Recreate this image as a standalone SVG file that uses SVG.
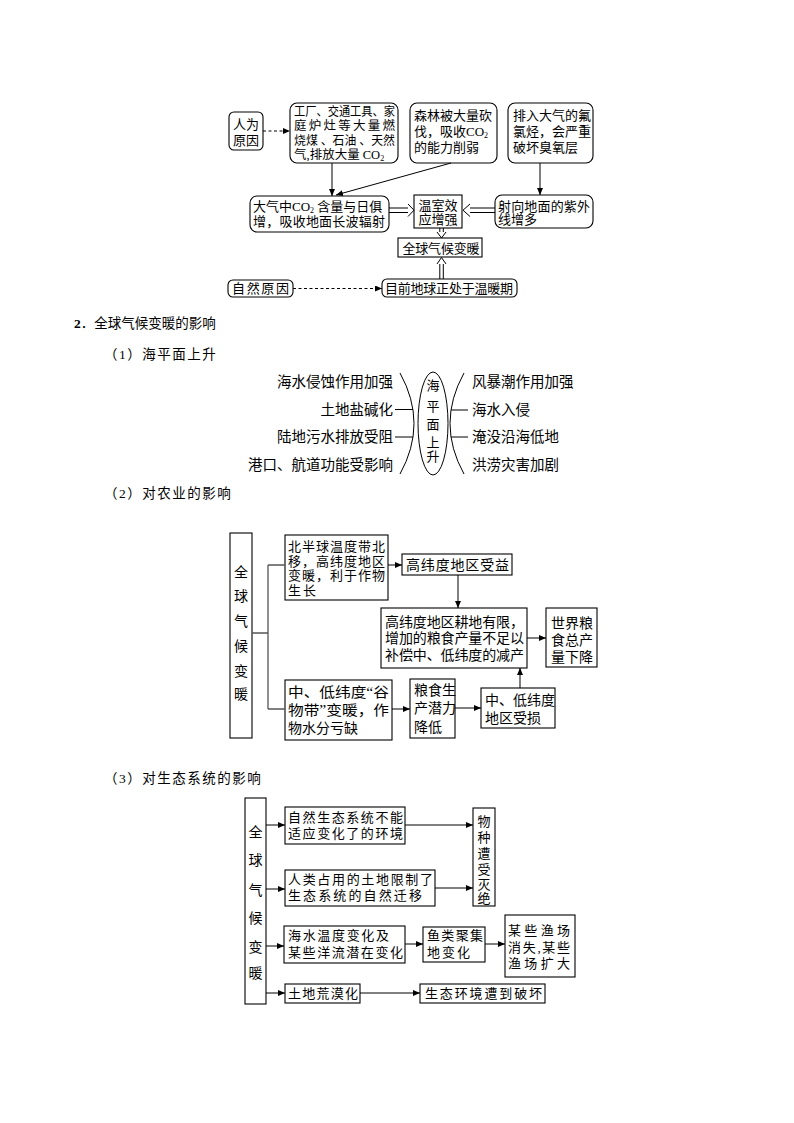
<svg xmlns="http://www.w3.org/2000/svg" width="794" height="1123" viewBox="0 0 794 1123">
<style>
.b{fill:#fff;stroke:#000;stroke-width:1.1}
.t{font-family:'Liberation Serif','Noto Sans CJK SC',serif;font-size:13px;fill:#000}
.s{font-family:'Liberation Serif','Noto Sans CJK SC',serif;font-size:12.5px;fill:#000}
.t14{font-family:'Liberation Serif','Noto Sans CJK SC',serif;font-size:14px;fill:#000}
.m{text-anchor:middle}
.c{stroke:#000;stroke-width:1;fill:none}
.g{stroke:#555;stroke-width:1.3;fill:none}
.d{stroke:#000;stroke-width:1;fill:none;stroke-dasharray:3,2.5}
.h{font-family:'Liberation Serif','Noto Sans CJK SC',serif;font-size:13.5px;fill:#000}
</style>
<defs>
<marker id="a" markerUnits="userSpaceOnUse" markerWidth="7" markerHeight="6" refX="7" refY="3" orient="auto">
<path d="M0,0 L7,3 L0,6 z" fill="#000"/>
</marker>
</defs>
<rect width="794" height="1123" fill="#fff"/>

<!-- Section 1: causes -->
<g id="n-renwei"><rect class="b" x="229" y="112" width="34" height="38" rx="5"/>
<text class="t m" x="246" y="129">人为</text><text class="t m" x="246" y="145">原因</text></g>
<g id="n-gongchang"><rect class="b" x="290" y="103" width="108" height="60" rx="7"/>
<text class="s" x="294" y="115.5" textLength="101" lengthAdjust="spacingAndGlyphs">工厂、交通工具、家</text>
<text class="s" x="294" y="130" textLength="101">庭炉灶等大量燃</text>
<text class="s" x="294" y="144.5" textLength="101" lengthAdjust="spacingAndGlyphs">烧煤 、石油 、天然</text>
<text class="s" x="294" y="158.5">气,排放大量 CO<tspan font-size="8" dy="2">2</tspan></text></g>
<g id="n-senlin"><rect class="b" x="410" y="103" width="87" height="60" rx="7"/>
<text class="t" x="414" y="120" textLength="78">森林被大量砍</text>
<text class="t" x="414" y="136">伐，吸收CO<tspan font-size="8" dy="2">2</tspan></text>
<text class="t" x="414" y="152">的能力削弱</text></g>
<g id="n-fuluting"><rect class="b" x="508" y="103" width="85" height="60" rx="7"/>
<text class="t" x="513" y="120" textLength="78">排入大气的氟</text>
<text class="t" x="513" y="136" textLength="78">氯烃，会严重</text>
<text class="t" x="513" y="152">破坏臭氧层</text></g>
<g id="n-daqi"><rect class="b" x="250" y="196" width="139" height="36" rx="7"/>
<text class="t" x="253" y="211">大气中CO<tspan font-size="8" dy="2">2</tspan><tspan dy="-2"> 含量与日俱</tspan></text>
<text class="t" x="253" y="226" textLength="132">增，吸收地面长波辐射</text></g>
<g id="n-wenshi"><rect class="b" x="414" y="195" width="48" height="33"/>
<text class="t m" x="438" y="209.5">温室效</text><text class="t m" x="438" y="223.5">应增强</text></g>
<g id="n-sheixiang"><rect class="b" x="495" y="195" width="98" height="33" rx="7"/>
<text class="t" x="498" y="210.5" textLength="92">射向地面的紫外</text>
<text class="t" x="498" y="224">线增多</text></g>
<g id="n-quanqiu"><rect class="b" x="398" y="238" width="84" height="19"/>
<text class="t m" x="441" y="252.5" textLength="77">全球气候变暖</text></g>
<g id="n-ziran"><rect class="b" x="228" y="280" width="65" height="17" rx="5"/>
<text class="t" x="232" y="293" textLength="57">自然原因</text></g>
<g id="n-muqian"><rect class="b" x="382" y="279" width="135" height="18" rx="5"/>
<text class="t" x="385" y="293" textLength="128">目前地球正处于温暖期</text></g>

<g id="connectors1">
<line class="d" x1="263" y1="131" x2="290" y2="131" marker-end="url(#a)"/>
<line class="c" x1="332" y1="163" x2="332" y2="196" marker-end="url(#a)"/>
<line class="c" x1="451" y1="163" x2="336" y2="195" marker-end="url(#a)"/>
<line class="c" x1="540" y1="163" x2="540" y2="195" marker-end="url(#a)"/>
<path class="c" d="M389,208 H408 M389,212.5 H408 M408,204 L414,210.2 L408,216.5"/>
<path class="c" d="M495,208 H470 M495,212.5 H470 M470,204 L463,210.2 L470,216.5"/>
<path class="c" d="M439.8,228 V232 M443.3,228 V232 M437,232 L441.5,238 L446,232"/>
<path class="c" d="M439.8,279 V264 M443.3,279 V264 M437,264 L441.5,257.5 L446,264"/>
<line class="d" x1="293" y1="288.5" x2="382" y2="288.5" marker-end="url(#a)"/>
</g>

<!-- Headings -->
<text class="h" x="74" y="328"><tspan font-weight="bold">2</tspan>．全球气候变暖的影响</text>
<text class="h" x="104" y="359" letter-spacing="1.5">（1）海平面上升</text>
<text class="h" x="104" y="498" letter-spacing="1.5">（2）对农业的影响</text>
<text class="h" x="104" y="783" letter-spacing="1.5">（3）对生态系统的影响</text>

<!-- Section 2: sea level -->
<g id="sea-level">
<ellipse class="c" cx="433" cy="423.5" rx="15" ry="51.5"/>
<text class="t m" x="433" y="390">海</text>
<text class="t m" x="433" y="411">平</text>
<text class="t m" x="433" y="429">面</text>
<text class="t m" x="433" y="447">上</text>
<text class="t m" x="433" y="461">升</text>
<path class="c" d="M400,373 Q428,423.5 400,474"/>
<path class="c" d="M464,373 Q436,423.5 464,474"/>
<path class="c" d="M395,409.5 H413 M395,437 H413 M451,410 H468 M451,437 H468"/>
<g style="font-family:'Liberation Serif','Noto Sans CJK SC',serif;font-size:14.5px;text-anchor:end">
<text x="393" y="387">海水侵蚀作用加强</text>
<text x="393" y="415">土地盐碱化</text>
<text x="393" y="442">陆地污水排放受阻</text>
<text x="393" y="470">港口、航道功能受影响</text>
</g>
<g style="font-family:'Liberation Serif','Noto Sans CJK SC',serif;font-size:14.5px">
<text x="472" y="387">风暴潮作用加强</text>
<text x="472" y="415">海水入侵</text>
<text x="472" y="442">淹没沿海低地</text>
<text x="472" y="470">洪涝灾害加剧</text>
</g>
</g>

<!-- Section 3: agriculture -->
<g id="agr-root"><rect class="b" x="230" y="533" width="22" height="205"/>
<text class="t14 m" x="241" y="577">全</text><text class="t14 m" x="241" y="601">球</text>
<text class="t14 m" x="241" y="626">气</text><text class="t14 m" x="241" y="651">候</text>
<text class="t14 m" x="241" y="676">变</text><text class="t14 m" x="241" y="699">暖</text></g>
<g id="agr-north"><rect class="b" x="285" y="535" width="103" height="65"/>
<text class="t" x="288" y="551" textLength="97">北半球温度带北</text>
<text class="t" x="288" y="565.5" textLength="97">移，高纬度地区</text>
<text class="t" x="288" y="580" textLength="97">变暖，利于作物</text>
<text class="t" x="288" y="594.5" textLength="28">生长</text></g>
<g id="agr-high"><rect class="b" x="402" y="554" width="110" height="21"/>
<text class="t14" x="406" y="569.5" textLength="103">高纬度地区受益</text></g>
<g id="agr-limited"><rect class="b" x="381" y="608" width="146" height="60"/>
<text class="t14" x="385" y="626.5" textLength="139">高纬度地区耕地有限，</text>
<text class="t14" x="385" y="643" textLength="139">增加的粮食产量不足以</text>
<text class="t14" x="385" y="660" textLength="139">补偿中、低纬度的减产</text></g>
<g id="agr-world"><rect class="b" x="546" y="608" width="51" height="59"/>
<text class="t14 m" x="572" y="628">世界粮</text>
<text class="t14 m" x="572" y="645">食总产</text>
<text class="t14 m" x="572" y="662">量下降</text></g>
<g id="agr-grain"><rect class="b" x="285" y="680" width="107" height="60"/>
<text class="t14" x="288" y="697" textLength="101" lengthAdjust="spacingAndGlyphs">中、低纬度“谷</text>
<text class="t14" x="288" y="715" textLength="101" lengthAdjust="spacingAndGlyphs">物带”变暖，作</text>
<text class="t14" x="288" y="733">物水分亏缺</text></g>
<g id="agr-potential"><rect class="b" x="410" y="679" width="45" height="59"/>
<text class="t14" x="414" y="695">粮食生</text>
<text class="t14" x="414" y="713">产潜力</text>
<text class="t14" x="414" y="732">降低</text></g>
<g id="agr-loss"><rect class="b" x="481" y="688" width="74" height="40"/>
<text class="t14" x="485" y="705">中、低纬度</text>
<text class="t14" x="485" y="723">地区受损</text></g>
<g id="connectors2">
<path class="g" d="M252,633 H268 M268,565 V709 M268,565 H285 M268,709 H285"/>
<line class="c" x1="388" y1="565" x2="402" y2="565" marker-end="url(#a)"/>
<line class="c" x1="458" y1="575" x2="458" y2="608" marker-end="url(#a)"/>
<line class="c" x1="527" y1="638" x2="546" y2="638" marker-end="url(#a)"/>
<line class="c" x1="392" y1="709" x2="410" y2="709" marker-end="url(#a)"/>
<line class="c" x1="455" y1="708" x2="481" y2="708" marker-end="url(#a)"/>
<line class="c" x1="520" y1="688" x2="520" y2="668" marker-end="url(#a)"/>
</g>

<!-- Section 4: ecosystem -->
<g id="eco-root"><rect class="b" x="245" y="798" width="21" height="206"/>
<text class="t14 m" x="255.5" y="837">全</text><text class="t14 m" x="255.5" y="865">球</text>
<text class="t14 m" x="255.5" y="895">气</text><text class="t14 m" x="255.5" y="923">候</text>
<text class="t14 m" x="255.5" y="952">变</text><text class="t14 m" x="255.5" y="978">暖</text></g>
<g id="eco-natural"><rect class="b" x="285" y="807" width="120" height="37"/>
<text class="t" x="288" y="821.5" textLength="115">自然生态系统不能</text>
<text class="t" x="288" y="838" textLength="115">适应变化了的环境</text></g>
<g id="eco-human"><rect class="b" x="285" y="870" width="150" height="36"/>
<text class="t" x="288" y="883.5" textLength="145">人类占用的土地限制了</text>
<text class="t" x="288" y="900" textLength="134">生态系统的自然迁移</text></g>
<g id="eco-extinct"><rect class="b" x="473" y="808" width="22" height="98"/>
<text class="t m" x="484" y="826">物</text><text class="t m" x="484" y="842">种</text>
<text class="t m" x="484" y="858">遭</text><text class="t m" x="484" y="874">受</text>
<text class="t m" x="484" y="889">灭</text><text class="t m" x="484" y="903">绝</text></g>
<g id="eco-sea"><rect class="b" x="284" y="926" width="121" height="37"/>
<text class="t" x="288" y="940" textLength="101">海水温度变化及</text>
<text class="t" x="288" y="957" textLength="115">某些洋流潜在变化</text></g>
<g id="eco-fish"><rect class="b" x="423" y="927" width="62" height="35"/>
<text class="t" x="427" y="940" textLength="56">鱼类聚集</text>
<text class="t" x="427" y="957" textLength="43">地变化</text></g>
<g id="eco-fishery"><rect class="b" x="505" y="915" width="70" height="62"/>
<text class="t" x="508" y="935" textLength="62">某些渔场</text>
<text class="t" x="508" y="952" textLength="62">消失,某些</text>
<text class="t" x="508" y="968" textLength="62">渔场扩大</text></g>
<g id="eco-desert"><rect class="b" x="285" y="984" width="75" height="19"/>
<text class="t" x="288" y="998" textLength="70">土地荒漠化</text></g>
<g id="eco-damage"><rect class="b" x="420" y="984" width="125" height="19"/>
<text class="t" x="425" y="998" textLength="117">生态环境遭到破坏</text></g>
<g id="connectors3">
<line class="c" x1="266" y1="825" x2="285" y2="825" marker-end="url(#a)"/>
<line class="c" x1="266" y1="889" x2="285" y2="889" marker-end="url(#a)"/>
<line class="c" x1="266" y1="946" x2="284" y2="946" marker-end="url(#a)"/>
<line class="c" x1="266" y1="993" x2="285" y2="993" marker-end="url(#a)"/>
<line class="c" x1="405" y1="825" x2="473" y2="825" marker-end="url(#a)"/>
<line class="c" x1="435" y1="888" x2="473" y2="888" marker-end="url(#a)"/>
<line class="c" x1="405" y1="944" x2="423" y2="944" marker-end="url(#a)"/>
<line class="c" x1="485" y1="944" x2="505" y2="944" marker-end="url(#a)"/>
<line class="c" x1="360" y1="993" x2="420" y2="993" marker-end="url(#a)"/>
</g>
</svg>
